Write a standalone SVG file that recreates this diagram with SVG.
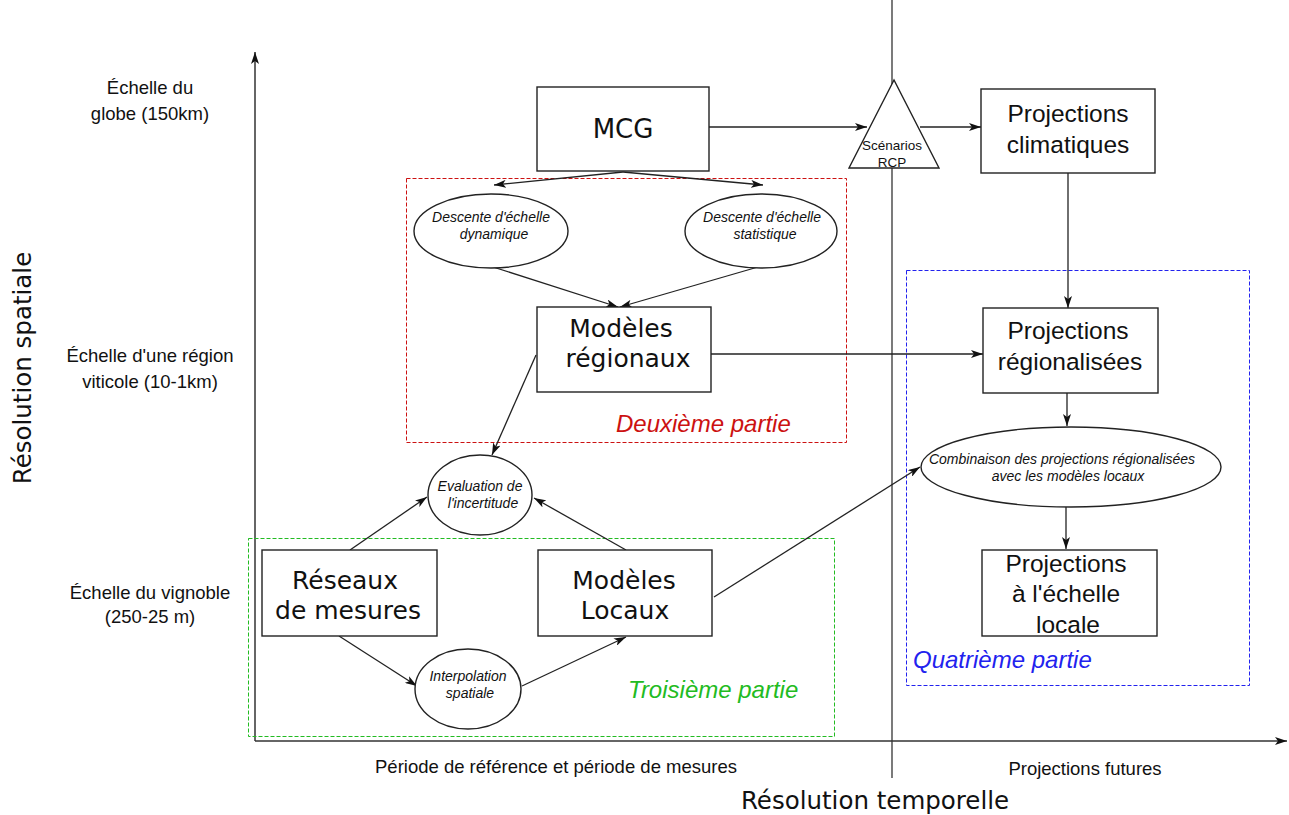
<svg xmlns="http://www.w3.org/2000/svg" width="1289" height="815" viewBox="0 0 1289 815">
<style>
.box{fill:#fff;stroke:#222;stroke-width:1.4}
.ell{fill:#fff;stroke:#222;stroke-width:1.4}
.c{fill:none;stroke:#222;stroke-width:1.3;marker-end:url(#ah)}
.ax{fill:none;stroke:#333;stroke-width:1.5}
.big{font-family:"DejaVu Sans",sans-serif;font-size:25px;fill:#111;text-anchor:middle}
.pj{font-family:"Liberation Sans",Arial,sans-serif;font-size:24.5px;fill:#111;text-anchor:middle}
.it{font-family:"Liberation Sans",Arial,sans-serif;font-size:14px;font-style:italic;fill:#111;text-anchor:middle}
.lab{font-family:"Liberation Sans",Arial,sans-serif;font-size:18.5px;fill:#111;text-anchor:middle}
.part{font-family:"Liberation Sans",Arial,sans-serif;font-size:24px;font-style:italic}
.axt{font-family:"DejaVu Sans",sans-serif;font-size:24.5px;fill:#111;text-anchor:middle}
</style>
<defs>
<marker id="ah" viewBox="0 0 12 8" refX="12" refY="4" markerWidth="12" markerHeight="8" markerUnits="userSpaceOnUse" orient="auto">
<path d="M0,0 L12,4 L0,8 L3,4 z" fill="#111"/>
</marker>
</defs>

<g id="axes">
<line class="ax" x1="255" y1="741" x2="255" y2="52" marker-end="url(#ah)"/>
<line class="ax" x1="255" y1="741" x2="1287" y2="741" marker-end="url(#ah)"/>
<line class="ax" x1="892" y1="0" x2="892" y2="778" style="stroke-width:1.3"/>
<text class="axt" transform="translate(31,368) rotate(-90)">Résolution spatiale</text>
<text class="axt" x="875" y="809">Résolution temporelle</text>
<text class="lab" x="556" y="773">Période de référence et période de mesures</text>
<text class="lab" x="1085" y="775">Projections futures</text>
<text class="lab" x="150" y="94">Échelle du</text>
<text class="lab" x="150" y="120">globe (150km)</text>
<text class="lab" x="150" y="362">Échelle d'une région</text>
<text class="lab" x="150" y="388">viticole (10-1km)</text>
<text class="lab" x="150" y="599">Échelle du vignoble</text>
<text class="lab" x="150" y="623">(250-25 m)</text>
</g>

<g id="zones">
<rect x="406.5" y="178.5" width="440" height="264" fill="none" stroke="#cc1111" stroke-width="1" stroke-dasharray="4,2"/>
<text class="part" x="616" y="432" fill="#cc1111">Deuxième partie</text>
<rect x="248.5" y="538.5" width="586" height="198" fill="none" stroke="#22bb22" stroke-width="1" stroke-dasharray="4,2"/>
<text class="part" x="628" y="698" fill="#22bb22">Troisième partie</text>
<rect x="906.5" y="270.5" width="343" height="415" fill="none" stroke="#2222ee" stroke-width="1" stroke-dasharray="4,2"/>
<text class="part" x="913" y="668" fill="#2222ee">Quatrième partie</text>
</g>

<g id="connectors">
<line class="c" x1="709" y1="127" x2="867" y2="127"/>
<line class="c" x1="920" y1="127" x2="981" y2="127"/>
<line class="c" x1="623" y1="172" x2="494" y2="185"/>
<line class="c" x1="623" y1="172" x2="763" y2="185"/>
<line class="c" x1="493" y1="267" x2="618" y2="307"/>
<line class="c" x1="758" y1="267" x2="620" y2="307"/>
<line class="c" x1="711" y1="354" x2="983" y2="354"/>
<line class="c" x1="1068" y1="173" x2="1068" y2="308"/>
<line class="c" x1="1067" y1="393" x2="1067" y2="426"/>
<line class="c" x1="1066" y1="507" x2="1066" y2="549"/>
<line class="c" x1="536" y1="355" x2="492" y2="455"/>
<line class="c" x1="350" y1="550" x2="427" y2="497"/>
<line class="c" x1="626" y1="550" x2="534" y2="498"/>
<line class="c" x1="339" y1="636" x2="417" y2="686"/>
<line class="c" x1="522" y1="686" x2="626" y2="637"/>
<line class="c" x1="714" y1="597" x2="920" y2="467"/>
</g>

<g id="mcg">
<rect class="box" x="537" y="87" width="172" height="84"/>
<text class="big" x="623" y="138" style="font-size:26px">MCG</text>
</g>

<g id="scenarios">
<polygon points="894,80 849,168 939,168" fill="#fff" stroke="#222" stroke-width="1.4"/>
<text class="it" x="892" y="150" style="font-style:normal;font-size:13.5px">Scénarios</text>
<text class="it" x="892" y="167" style="font-style:normal;font-size:13.5px">RCP</text>
</g>

<g id="proj-clim">
<rect class="box" x="981" y="89" width="174" height="84"/>
<text class="pj" x="1068" y="122">Projections</text>
<text class="pj" x="1068" y="153">climatiques</text>
</g>

<g id="desc-dyn">
<ellipse class="ell" cx="491" cy="231" rx="77" ry="37"/>
<text class="it" x="491" y="222">Descente d'échelle</text>
<text class="it" x="494" y="239">dynamique</text>
</g>

<g id="desc-stat">
<ellipse class="ell" cx="761" cy="231" rx="76" ry="37"/>
<text class="it" x="762" y="222">Descente d'échelle</text>
<text class="it" x="765" y="239">statistique</text>
</g>

<g id="mod-reg">
<rect class="box" x="537" y="307" width="174" height="85"/>
<text class="big" x="621" y="337">Modèles</text>
<text class="big" x="628" y="367">régionaux</text>
</g>

<g id="proj-reg">
<rect class="box" x="983" y="308" width="175" height="85"/>
<text class="pj" x="1068" y="339">Projections</text>
<text class="pj" x="1070" y="370">régionalisées</text>
</g>

<g id="combinaison">
<ellipse class="ell" cx="1071" cy="467" rx="150" ry="40"/>
<text class="it" x="1062" y="464">Combinaison des projections régionalisées</text>
<text class="it" x="1068" y="481">avec les modèles locaux</text>
</g>

<g id="proj-loc">
<rect class="box" x="982" y="550" width="175" height="86"/>
<text class="pj" x="1066" y="572">Projections</text>
<text class="pj" x="1066" y="602">à l'échelle</text>
<text class="pj" x="1068" y="633">locale</text>
</g>

<g id="evaluation">
<ellipse class="ell" cx="480" cy="495" rx="52" ry="40"/>
<text class="it" x="480" y="491">Evaluation de</text>
<text class="it" x="483" y="508">l'incertitude</text>
</g>

<g id="reseaux">
<rect class="box" x="262" y="550" width="175" height="86"/>
<text class="big" x="345" y="589">Réseaux</text>
<text class="big" x="348" y="619">de mesures</text>
</g>

<g id="mod-loc">
<rect class="box" x="538" y="550" width="174" height="86"/>
<text class="big" x="624" y="589">Modèles</text>
<text class="big" x="625" y="619">Locaux</text>
</g>

<g id="interpolation">
<ellipse class="ell" cx="468" cy="689" rx="53" ry="40"/>
<text class="it" x="468" y="681">Interpolation</text>
<text class="it" x="470" y="698">spatiale</text>
</g>
</svg>
